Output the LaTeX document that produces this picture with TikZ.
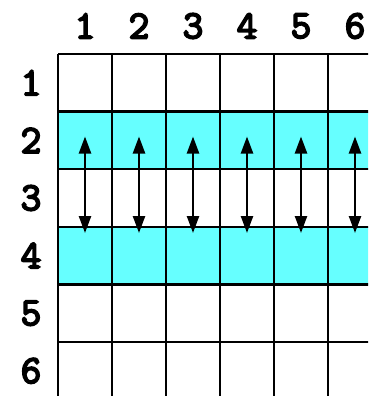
\documentclass[tikz,border=0pt]{standalone}
\usepackage{fontspec}
\newfontfamily\lmmonob{Latin Modern Mono}[FakeBold=4.5]
\usetikzlibrary{arrows.meta}
\definecolor{rowcyan}{HTML}{66FFFF}
\tikzset{
  lbl/.style={font=\lmmonob\fontsize{40}{40}\selectfont, inner sep=0pt},
  gridline/.style={line width=2.4pt, black},
  dbl/.style={line width=2.4pt, {Triangle[width=12pt,length=17pt]}-{Triangle[width=12pt,length=17pt]}}
}
\begin{document}
\begin{tikzpicture}[x=1pt,y=-1pt]
\useasboundingbox (0,0) rectangle (368,396);
\begin{scope}
\clip (0,0) rectangle (368,396);
% shaded rows
\fill[rowcyan] (58,112) rectangle (400,169.5);
\fill[rowcyan] (58,227) rectangle (400,284.5);
% grid lines
\foreach \i in {0,...,6} {
  \draw[gridline] (58+54*\i,54) -- (58+54*\i,410);
}
\foreach \j in {0,...,6} {
  \draw[gridline] (58,54+57.6*\j) -- (400,54+57.6*\j);
}
% arrows
\foreach \i in {1,...,6} {
  \coordinate (t\i) at (31+54*\i,136.5);
  \coordinate (b\i) at (31+54*\i,233);
  \draw[dbl] (t\i) -- (b\i);
}
\end{scope}
% labels
\foreach \i in {1,...,6} {
  \node[lbl] (c\i) at (31+54*\i,26) {\i};
  \node[lbl] (r\i) at (31,25.2+57.6*\i) {\i};
}
\end{tikzpicture}
\end{document}
